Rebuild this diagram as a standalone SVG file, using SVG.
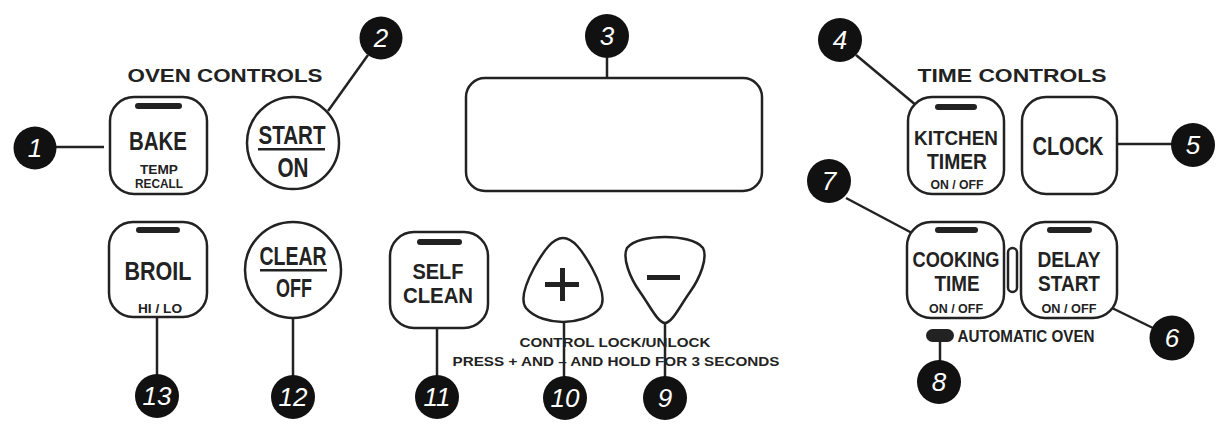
<svg xmlns="http://www.w3.org/2000/svg" width="1223" height="429" viewBox="0 0 1223 429">
<style>
.btn{fill:#fff;stroke:#222;stroke-width:2.5}
.bar{fill:#222}
.lbl{font-family:"Liberation Sans Narrow","Liberation Sans",sans-serif;font-weight:bold;fill:#222;text-anchor:middle}
.head{font-family:"Liberation Sans",Arial,sans-serif;font-weight:bold;fill:#222;text-anchor:middle}
.note{font-family:"Liberation Sans",Arial,sans-serif;font-weight:bold;fill:#222;text-anchor:middle;font-size:13px}
.badge circle{fill:#111}
.badge text{font-family:"Liberation Sans",Arial,sans-serif;font-style:italic;fill:#fff;font-size:26px;text-anchor:middle}
.conn line{stroke:#222;stroke-width:2.5}
</style>
<rect width="1223" height="429" fill="#fff"/>

<text class="head" x="225" y="82" font-size="19" textLength="195" lengthAdjust="spacingAndGlyphs">OVEN CONTROLS</text>
<text class="head" x="1012" y="82" font-size="19" textLength="189" lengthAdjust="spacingAndGlyphs">TIME CONTROLS</text>

<g class="conn">
<line x1="56" y1="147" x2="104" y2="147"/>
<line x1="328" y1="111" x2="368" y2="55"/>
<line x1="607" y1="58" x2="607" y2="78"/>
<line x1="856" y1="55" x2="917" y2="106"/>
<line x1="1117" y1="144" x2="1172" y2="144"/>
<line x1="846" y1="198" x2="912" y2="233"/>
<line x1="1112" y1="308" x2="1153" y2="328"/>
<line x1="940" y1="342" x2="940" y2="362"/>
<line x1="157" y1="317" x2="157" y2="376"/>
<line x1="293" y1="318" x2="293" y2="376"/>
<line x1="437" y1="328" x2="437" y2="376"/>
</g>

<g id="display">
<rect class="btn" x="466" y="78" width="296" height="113" rx="19"/>
</g>

<g id="bake">
<rect class="btn" x="110" y="97" width="97" height="97" rx="24"/>
<rect class="bar" x="135" y="103" width="47" height="6" rx="3"/>
<text class="lbl" x="158" y="150" font-size="25" textLength="58" lengthAdjust="spacingAndGlyphs">BAKE</text>
<text class="lbl" x="159" y="174" font-size="13" textLength="38" lengthAdjust="spacingAndGlyphs">TEMP</text>
<text class="lbl" x="159" y="188" font-size="13" textLength="48" lengthAdjust="spacingAndGlyphs">RECALL</text>
</g>

<g id="start">
<circle class="btn" cx="293" cy="143" r="46"/>
<text class="lbl" x="292" y="144" font-size="26" textLength="67" lengthAdjust="spacingAndGlyphs">START</text>
<rect class="bar" x="258" y="148" width="67" height="2.5"/>
<text class="lbl" x="293" y="177" font-size="27" textLength="31" lengthAdjust="spacingAndGlyphs">ON</text>
</g>

<g id="broil">
<rect class="btn" x="109" y="222" width="98" height="95" rx="24"/>
<rect class="bar" x="136" y="227" width="44" height="6" rx="3"/>
<text class="lbl" x="158" y="280" font-size="25" textLength="67" lengthAdjust="spacingAndGlyphs">BROIL</text>
<text class="lbl" x="160" y="313" font-size="13" textLength="44" lengthAdjust="spacingAndGlyphs">HI / LO</text>
</g>

<g id="clear">
<circle class="btn" cx="293" cy="270" r="48"/>
<text class="lbl" x="293" y="265" font-size="25" textLength="67" lengthAdjust="spacingAndGlyphs">CLEAR</text>
<rect class="bar" x="260" y="269" width="67" height="2.5"/>
<text class="lbl" x="294" y="297" font-size="25" textLength="36" lengthAdjust="spacingAndGlyphs">OFF</text>
</g>

<g id="selfclean">
<rect class="btn" x="390" y="232" width="98" height="96" rx="24"/>
<rect class="bar" x="417" y="239" width="45" height="6" rx="3"/>
<text class="lbl" x="438" y="279" font-size="22" textLength="51" lengthAdjust="spacingAndGlyphs">SELF</text>
<text class="lbl" x="438" y="303" font-size="22" textLength="70" lengthAdjust="spacingAndGlyphs">CLEAN</text>
</g>

<g id="plus">
<path class="btn" d="M563 238 C573 238 582 250 592 268 C600 283 606 300 600 308 C592 318 575 322 563 322 C551 322 534 318 526 308 C520 300 526 283 534 268 C544 250 553 238 563 238 Z"/>
<rect class="bar" x="545" y="282" width="34" height="5"/>
<rect class="bar" x="560" y="268" width="5" height="33"/>
</g>

<g id="minus">
<path class="btn" d="M665 237 C680 237 697 240 703 248 C708 258 700 278 690 292 C680 306 672 323 665 323 C658 323 650 306 640 292 C630 278 622 258 627 248 C633 240 650 237 665 237 Z"/>
<rect class="bar" x="647" y="275" width="33" height="5"/>
</g>

<g id="lock-note">
<text class="note" x="615" y="347" textLength="191" lengthAdjust="spacingAndGlyphs">CONTROL LOCK/UNLOCK</text>
<text class="note" x="616" y="366" textLength="327" lengthAdjust="spacingAndGlyphs">PRESS + AND – AND HOLD FOR 3 SECONDS</text>
</g>

<g class="conn">
<line x1="564" y1="322" x2="564" y2="377"/>
<line x1="665" y1="323" x2="665" y2="377"/>
</g>

<g id="kitchen">
<rect class="btn" x="908" y="97" width="96" height="97" rx="24"/>
<rect class="bar" x="935" y="104" width="42" height="6" rx="3"/>
<text class="lbl" x="956" y="145" font-size="21" textLength="84" lengthAdjust="spacingAndGlyphs">KITCHEN</text>
<text class="lbl" x="957" y="169" font-size="22" textLength="60" lengthAdjust="spacingAndGlyphs">TIMER</text>
<text class="lbl" x="957" y="189" font-size="12" textLength="53" lengthAdjust="spacingAndGlyphs">ON / OFF</text>
</g>

<g id="clock">
<rect class="btn" x="1022" y="97" width="95" height="97" rx="24"/>
<text class="lbl" x="1068" y="155" font-size="25" textLength="71" lengthAdjust="spacingAndGlyphs">CLOCK</text>
</g>

<g id="cooking">
<rect class="btn" x="907" y="222" width="97" height="96" rx="24"/>
<rect class="bar" x="935" y="227" width="43" height="6" rx="3"/>
<text class="lbl" x="956" y="267" font-size="22" textLength="87" lengthAdjust="spacingAndGlyphs">COOKING</text>
<text class="lbl" x="957" y="291" font-size="22" textLength="45" lengthAdjust="spacingAndGlyphs">TIME</text>
<text class="lbl" x="956" y="313" font-size="12" textLength="54" lengthAdjust="spacingAndGlyphs">ON / OFF</text>
</g>

<g id="pill">
<rect class="btn" x="1008" y="248" width="9" height="44" rx="4.5" stroke-width="2"/>
</g>

<g id="delay">
<rect class="btn" x="1021" y="222" width="96" height="96" rx="24"/>
<rect class="bar" x="1047" y="227" width="45" height="6" rx="3"/>
<text class="lbl" x="1069" y="267" font-size="22" textLength="63" lengthAdjust="spacingAndGlyphs">DELAY</text>
<text class="lbl" x="1069" y="291" font-size="22" textLength="62" lengthAdjust="spacingAndGlyphs">START</text>
<text class="lbl" x="1069" y="313" font-size="12" textLength="55" lengthAdjust="spacingAndGlyphs">ON / OFF</text>
</g>

<g id="auto-oven">
<rect class="bar" x="926" y="329" width="28" height="13" rx="6.5"/>
<text class="lbl" x="1026" y="342" font-size="16" textLength="137" lengthAdjust="spacingAndGlyphs">AUTOMATIC OVEN</text>
</g>

<g id="b1" class="badge"><circle cx="35" cy="148" r="21.5"/><text x="35" y="157">1</text></g>
<g id="b2" class="badge"><circle cx="381" cy="38" r="21.5"/><text x="381" y="47">2</text></g>
<g id="b3" class="badge"><circle cx="607" cy="36" r="22"/><text x="607" y="45">3</text></g>
<g id="b4" class="badge"><circle cx="840" cy="40" r="22"/><text x="840" y="49">4</text></g>
<g id="b5" class="badge"><circle cx="1193" cy="145" r="22"/><text x="1193" y="154">5</text></g>
<g id="b6" class="badge"><circle cx="1172" cy="338" r="22.5"/><text x="1172" y="347">6</text></g>
<g id="b7" class="badge"><circle cx="829" cy="181" r="22"/><text x="829" y="190">7</text></g>
<g id="b8" class="badge"><circle cx="939" cy="382" r="22"/><text x="939" y="391">8</text></g>
<g id="b9" class="badge"><circle cx="665" cy="398" r="22"/><text x="665" y="407">9</text></g>
<g id="b10" class="badge"><circle cx="565" cy="398" r="22"/><text x="565" y="407">10</text></g>
<g id="b11" class="badge"><circle cx="437" cy="397" r="22"/><text x="437" y="406">11</text></g>
<g id="b12" class="badge"><circle cx="293" cy="397" r="22"/><text x="293" y="406">12</text></g>
<g id="b13" class="badge"><circle cx="157" cy="396" r="22"/><text x="157" y="405">13</text></g>
</svg>
